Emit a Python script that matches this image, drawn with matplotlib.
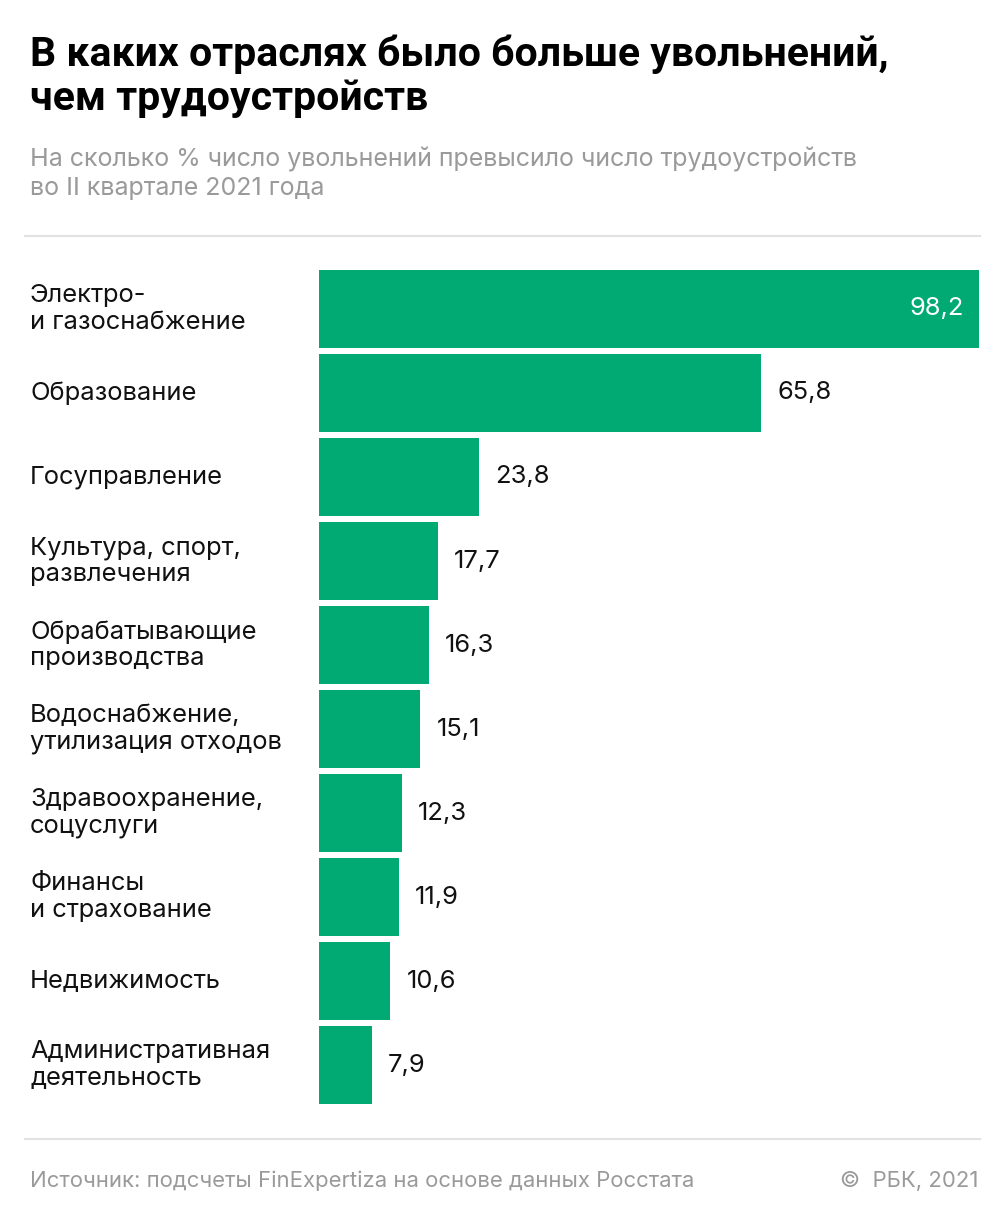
import numpy as np
import matplotlib.pyplot as plt
from matplotlib.lines import Line2D

plt.rcParams['font.family'] = ['Inter', 'Roboto', 'DejaVu Sans']

# данные
categories = ['Электро-\nи газоснабжение', 'Образование', 'Госуправление',
              'Культура, спорт,\nразвлечения', 'Обрабатывающие\nпроизводства',
              'Водоснабжение,\nутилизация отходов', 'Здравоохранение,\nсоцуслуги',
              'Финансы\nи страхование', 'Недвижимость',
              'Административная\nдеятельность']
values = [98.2, 65.8, 23.8, 17.7, 16.3, 15.1, 12.3, 11.9, 10.6, 7.9]
labels = ['98,2', '65,8', '23,8', '17,7', '16,3', '15,1', '12,3', '11,9', '10,6', '7,9']

W, H = 1005, 1231
fig = plt.figure(figsize=(W / 100, H / 100), dpi=100)
green = '#00AA72'

# оси с барами
x0, x1 = 319, 979
y_top, y_bot = 267, 1107
ax = fig.add_axes([x0 / W, 1 - y_bot / H, (x1 - x0) / W, (y_bot - y_top) / H])
pos = np.arange(len(values))
ax.barh(pos, values, height=0.93, color=green)
ax.set_xlim(0, max(values))
ax.set_ylim(len(values) - 0.5, -0.5)
ax.axis('off')

for i, (v, lab) in enumerate(zip(values, labels)):
    if v > 90:
        ax.text(v - 2.2, i, lab, ha='right', va='center', color='white', fontsize=18.4)
    else:
        ax.text(v + 2.4, i, lab, ha='left', va='center', color='#111111', fontsize=18.4)
    fig.text(30 / W, 1 - (309 + 84 * i) / H, categories[i], ha='left', va='center',
             fontsize=18.4, color='#111111', linespacing=1.18)

# заголовок
fig.text(30 / W, 1 - 35 / H, 'В каких отраслях было больше увольнений,\nчем трудоустройств',
         ha='left', va='top', fontsize=29.5, fontweight='bold',
         family=['Roboto', 'DejaVu Sans'], linespacing=1.15)
fig.text(30 / W, 1 - 147 / H, 'На сколько % число увольнений превысило число трудоустройств\nво II квартале 2021 года',
         ha='left', va='top', fontsize=18, color='#9a9a9a', linespacing=1.28)

# линии
fig.add_artist(Line2D([25 / W, 980 / W], [1 - 236 / H, 1 - 236 / H], color='#e2e2e2', lw=1.5))
fig.add_artist(Line2D([25 / W, 980 / W], [1 - 1139 / H, 1 - 1139 / H], color='#e2e2e2', lw=1.5))

# подвал
fig.text(30 / W, 1 - 1181 / H, 'Источник: подсчеты FinExpertiza на основе данных Росстата',
         ha='left', va='center', fontsize=15.9, color='#9a9a9a')
fig.text(978 / W, 1 - 1181 / H, '©  РБК, 2021', ha='right', va='center',
         fontsize=15.9, color='#9a9a9a')

plt.savefig('out.png', dpi=100)
